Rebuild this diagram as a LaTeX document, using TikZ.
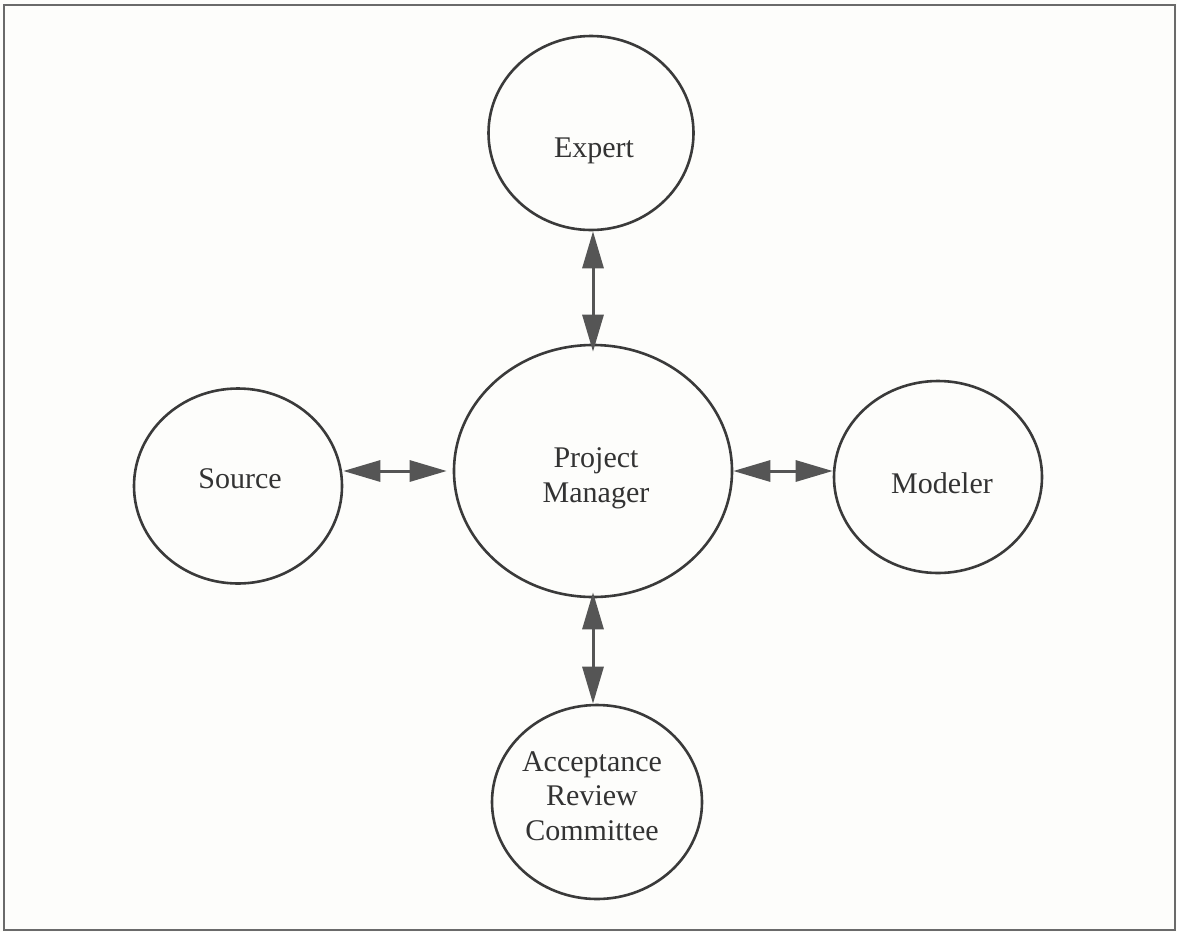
\documentclass[tikz,border=0pt]{standalone}
\usepackage{fontspec}
\setmainfont{Liberation Serif}
\usetikzlibrary{shapes.geometric,arrows.meta}
\definecolor{bg}{HTML}{FDFDFB}
\definecolor{ink}{HTML}{3A3A3A}
\definecolor{arrowgrey}{HTML}{555555}
\definecolor{txt}{HTML}{333333}
\definecolor{framegrey}{HTML}{6A6A6A}
\tikzset{
  role/.style={ellipse, draw=ink, line width=2.6pt, inner sep=0pt},
  lbl/.style={anchor=base, align=center, text=txt, inner sep=0pt,
    font=\fontsize{30}{34.5}\selectfont},
  link/.style={draw=arrowgrey, line width=3pt,
    {Triangle[length=37pt,width=21pt]}-{Triangle[length=37pt,width=21pt]}},
}
\begin{document}
\begin{tikzpicture}[x=1pt,y=-1pt]
  \fill[bg] (0,0) rectangle (1177,932);
  \useasboundingbox (0,0) rectangle (1177,932);
  \draw[framegrey, line width=2pt] (4,5) rectangle (1175,930);

  % circles
  \node[role, minimum width=205pt, minimum height=194pt] (exp) at (591,133) {};
  \node[role, minimum width=278pt, minimum height=252pt] (pm)  at (593,471) {};
  \node[role, minimum width=208pt, minimum height=195pt] (src) at (238,486) {};
  \node[role, minimum width=208pt, minimum height=192pt] (mod) at (938,477) {};
  \node[role, minimum width=210pt, minimum height=194pt] (arc) at (597,802) {};

  % labels (anchor=base is the baseline of the last line)
  \node[lbl] (expT) at (594,157) {Expert};
  \node[lbl] (pmT)  at (596,502) {Project\\Manager};
  \node[lbl] (srcT) at (240,488) {Source};
  \node[lbl] (modT) at (942,493) {Modeler};
  \node[lbl] (arcT) at (592,840) {Acceptance\\Review\\Committee};

  % connectors
  \draw[link] (exp.south -| pm.north) -- ([yshift=-8pt]pm.north);
  \draw[link] (src.east |- pm.center) -- ([xshift=-6pt]pm.west);
  \draw[link] (pm.east) -- (mod.west |- pm.center);
  \draw[link] ([yshift=6pt]pm.south) -- (arc.north -| pm.south);
\end{tikzpicture}
\end{document}
